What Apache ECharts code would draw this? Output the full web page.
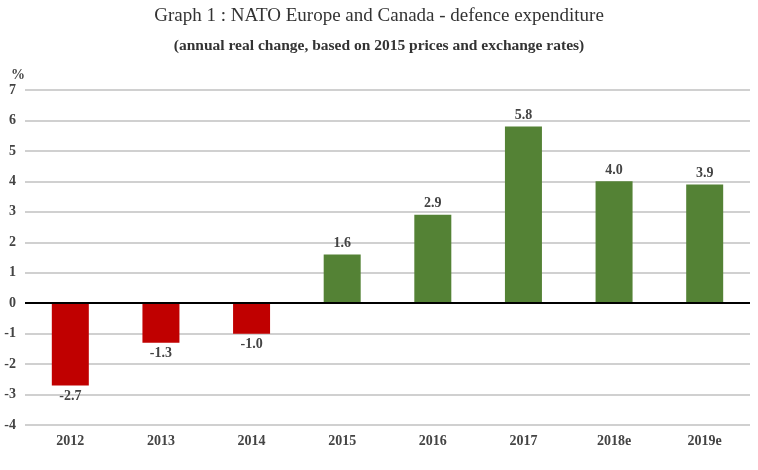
<!DOCTYPE html>
<html><head><meta charset="utf-8">
<script src="https://cdn.jsdelivr.net/npm/echarts@6/dist/echarts.min.js"></script>
<style>html,body{margin:0;padding:0;background:#fff}#c{width:758px;height:470px}</style>
</head><body><div id="c"></div>
<script>
const categories = ['2012','2013','2014','2015','2016','2017','2018e','2019e'];
const values = [-2.7, -1.3, -1.0, 1.6, 2.9, 5.8, 4.0, 3.9];
const yTicks = [-4,-3,-2,-1,0,1,2,3,4,5,6,7];
const titleText = 'Graph 1 : NATO Europe and Canada - defence expenditure';
const subtitleText = '(annual real change, based on 2015 prices and exchange rates)';
const unitText = '%';

const serif = '"Liberation Serif", "DejaVu Serif", serif';
const chart = echarts.init(document.getElementById('c'));
chart.setOption({
  animation: false,
  backgroundColor: '#fff',
  title: [
    {text: titleText, left: 'center', top: 2, textStyle: {fontFamily: serif, fontSize: 19, fontWeight: 'normal', color: '#333'}},
    {text: subtitleText, left: 'center', top: 33, textStyle: {fontFamily: serif, fontSize: 15.5, fontWeight: 'bold', color: '#333'}},
    {text: unitText, left: 6, top: 63, textStyle: {fontFamily: serif, fontSize: 14, fontWeight: 'bold', color: '#444'}}
  ],
  grid: {left: 25, right: 8, top: 90, bottom: 45, containLabel: false},
  xAxis: {
    type: 'category', data: categories,
    axisLine: {show: false}, axisTick: {show: false},
    axisLabel: {fontFamily: serif, fontSize: 14, fontWeight: 'bold', color: '#444', margin: 9, verticalAlign: 'top'},
    position: 'bottom'
  },
  yAxis: {
    type: 'value', min: -4, max: 7, interval: 1,
    axisLine: {show: false}, axisTick: {show: false},
    axisLabel: {fontFamily: serif, fontSize: 14, fontWeight: 'bold', color: '#444', margin: 9,
      formatter: v => yTicks.includes(v) ? String(v) : ''},
    splitLine: {lineStyle: {color: '#d0d0d0', width: 2}}
  },
  series: [{
    type: 'bar', barWidth: 37,
    data: values.map(v => ({
      value: v,
      itemStyle: {color: v < 0 ? '#C00000' : '#548235'},
      label: {position: v < 0 ? 'bottom' : 'top'}
    })),
    label: {show: true, fontFamily: serif, fontSize: 14, fontWeight: 'bold', color: '#444', distance: 4,
      formatter: p => p.value.toFixed(1)},
    markLine: {
      silent: true, symbol: 'none', label: {show: false},
      lineStyle: {color: '#000', width: 2, type: 'solid'},
      data: [{yAxis: 0}]
    }
  }]
});
</script></body></html>
